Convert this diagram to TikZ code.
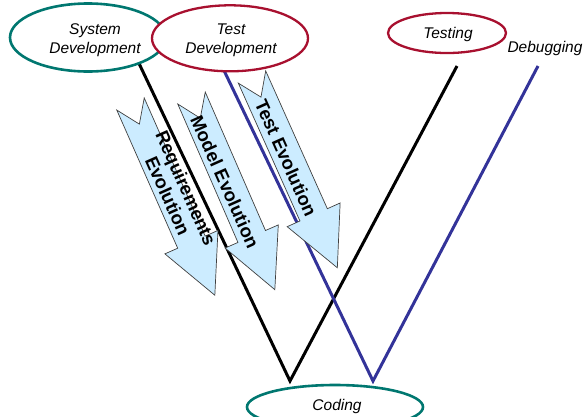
\documentclass[tikz,border=0pt]{standalone}
\usepackage{fontspec}
\setmainfont{Liberation Sans}
\usetikzlibrary{shapes.geometric}
\definecolor{tealc}{HTML}{007770}
\definecolor{crim}{HTML}{A8102F}
\definecolor{navy}{HTML}{333399}
\definecolor{evofill}{HTML}{CCECFF}
\tikzset{
  vline/.style={line width=3pt},
  oval/.style={ellipse, draw, fill=white, inner sep=0pt, line width=2.6pt},
  lbl/.style={font=\fontsize{15.5}{19}\selectfont\itshape, align=center, inner sep=0pt},
  evo/.style={fill=evofill, draw=black!75, line width=0.7pt, line join=miter},
  evotext/.style={font=\fontsize{18.5}{20}\selectfont\bfseries, align=center, inner sep=0pt, rotate=-66}
}
\newcommand\evoarrow[2]{%
  \path[evo, shift={#1}, rotate=#2]
    (0,15) -- (22,0) -- (0,-15) -- (151,-15) -- (151,-29) -- (209,0)
    -- (151,29) -- (151,15) -- cycle;}
\begin{document}
\begin{tikzpicture}[x=1pt,y=-1pt]
\useasboundingbox (0,0) rectangle (584,416);
% V endpoints
\coordinate (b1) at (135,55);
\coordinate (b2) at (290,381);
\coordinate (b3) at (457,66);
\coordinate (u1) at (218,58);
\coordinate (u2) at (373,381);
\coordinate (u3) at (538,66);
\draw[vline, black] (b1) -- (b2) -- (b3);
\draw[vline, navy] (u1) -- (u2) -- (u3);
% evolution arrows
\evoarrow{(130.5,104)}{-66.2}
\evoarrow{(191.5,98)}{-66.5}
\evoarrow{(252,77)}{-65.9}
\node[evotext] (req) at (177,192) {Requirements\\Evolution};
\node[evotext] (mod) at (225,182) {Model Evolution};
\node[evotext] (tst) at (286,158) {Test Evolution};
% ovals
\node[oval, draw=tealc, minimum width=156pt, minimum height=68pt] (sysdev) at (88,37.5) {};
\node[oval, draw=crim, line width=2.3pt, minimum width=156pt, minimum height=66pt] (testdev) at (230,38.3) {};
\node[oval, draw=crim, line width=2.3pt, minimum width=118pt, minimum height=40pt] (testing) at (447,33) {};
\node[oval, draw=tealc, minimum width=176pt, minimum height=44pt] (coding) at (335,407) {};
\node[lbl] (sdt) at (95,40) {System\\Development};
\node[lbl] (tdt) at (231,40) {Test\\Development};
\node[lbl] (tgt) at (448,34) {Testing};
\node[lbl] (dbg) at (545,48) {Debugging};
\node[lbl] (cdt) at (337,406) {Coding};
\end{tikzpicture}
\end{document}
